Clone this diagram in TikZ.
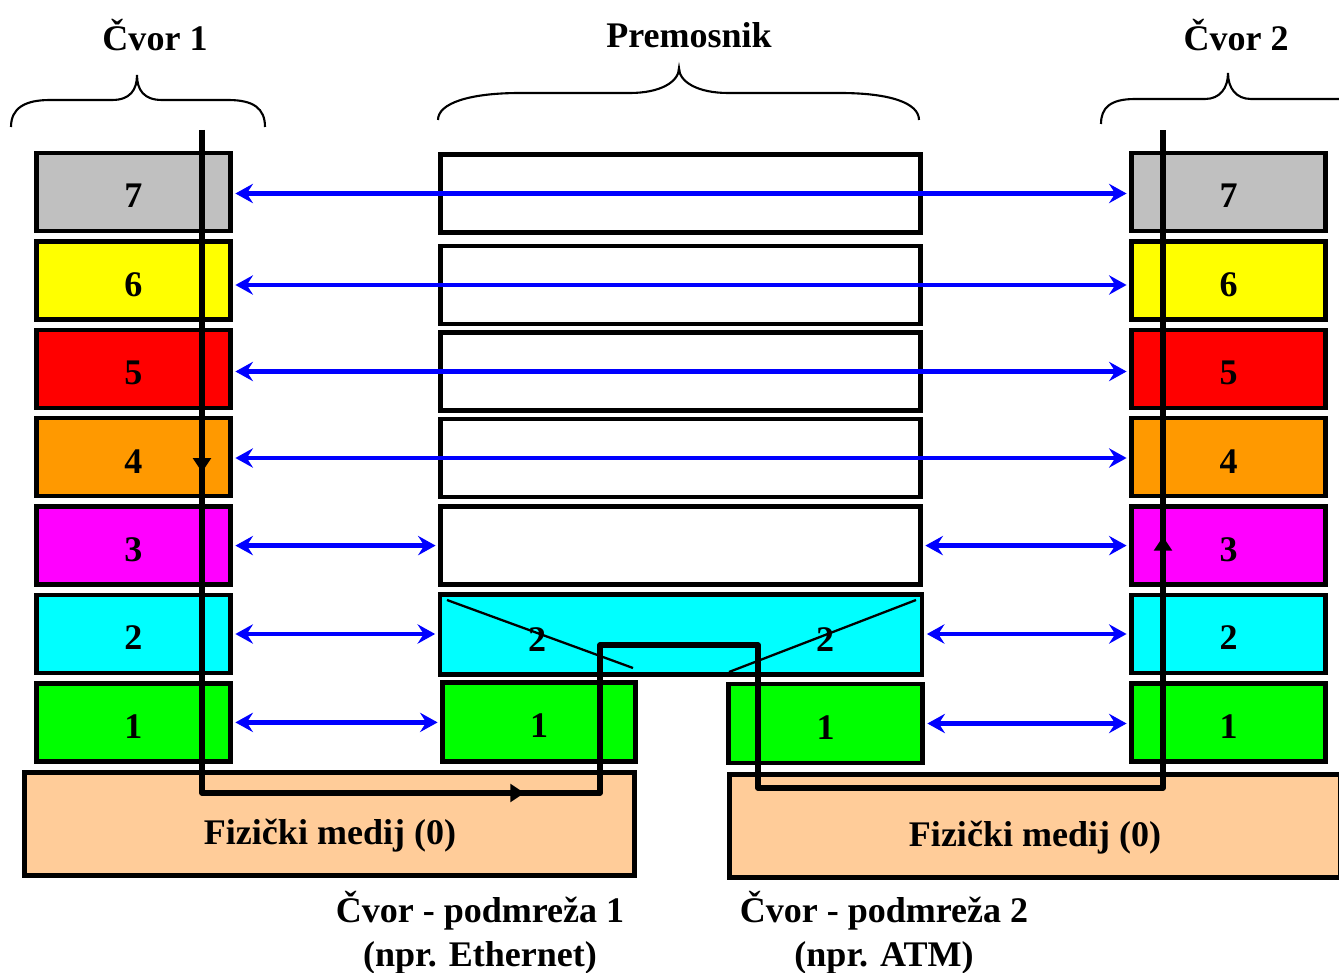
\documentclass[tikz,border=0pt]{standalone}
\usepackage{fontspec}
\setmainfont{Liberation Serif}
\usetikzlibrary{arrows.meta,decorations.markings}
\definecolor{sloj7}{HTML}{C0C0C0}
\definecolor{sloj6}{HTML}{FFFF00}
\definecolor{sloj5}{HTML}{FF0000}
\definecolor{sloj4}{HTML}{FF9900}
\definecolor{sloj3}{HTML}{FF00FF}
\definecolor{sloj2}{HTML}{00FFFF}
\definecolor{sloj1}{HTML}{00FF00}
\definecolor{medij}{HTML}{FFCC99}

\begin{document}
\begin{tikzpicture}[x=0.02cm, y=-0.02cm,
	font=\bfseries\fontsize{20.5}{25}\selectfont,
	sloj/.style={draw, line width=2.6pt, minimum width=3.88cm, minimum height=1.56cm, inner sep=0pt, text height=18pt, text depth=0pt},
	most/.style={draw, line width=2.6pt, fill=white, minimum width=9.6cm, minimum height=1.56cm, inner sep=0pt},
	fizicki/.style={draw, line width=2.6pt, fill=medij, minimum width=12.2cm, minimum height=2.06cm, inner sep=0pt},
	veza/.style={blue, line width=2.8pt, {Stealth[length=10pt,width=11pt,inset=3.5pt]}-{Stealth[length=10pt,width=11pt,inset=3.5pt]}, shorten <=1.5pt, shorten >=1.5pt},
	zagrada/.style={line width=1.2pt},
	tanka/.style={line width=1.3pt},
	put/.style={line width=3.3pt, line join=round, postaction=decorate,
		decoration={markings,
			mark=at position 0.133 with {\arrow{Triangle[width=10pt,length=8pt]}},
			mark=at position 0.383 with {\arrow{Triangle[width=10pt,length=8pt]}},
			mark=at position 0.842 with {\arrow{Triangle[width=10pt,length=8pt]}}}}]
	\useasboundingbox (0,0) rectangle (1339,973);

	\node (cvor1) at (155,35) {Čvor 1};
	\node (premosnik) at (689,35) {Premosnik};
	\node (cvor2) at (1236,35) {Čvor 2};

	\draw[zagrada] (11,127) .. controls (11,108) and (25,100) .. (50,100) -- (112,100)
		.. controls (130,100) and (137,90) .. (137,75) .. controls (137,90) and (144,100) .. (162,100)
		-- (228,100) .. controls (253,100) and (265,108) .. (265,127);
	\draw[zagrada] (438,120) .. controls (438,103) and (470,93) .. (520,93) -- (630,93)
		.. controls (660,93) and (679,82) .. (679,68) .. controls (679,82) and (698,93) .. (728,93)
		-- (840,93) .. controls (890,93) and (919,103) .. (919,120);
	\draw[zagrada] (1101,124) .. controls (1101,108) and (1110,99) .. (1135,99) -- (1205,99)
		.. controls (1220,99) and (1228,88) .. (1228,73) .. controls (1228,88) and (1236,99) .. (1251,99)
		-- (1345,99);

	\foreach \n/\boja [count=\i from 0] in {7/sloj7,6/sloj6,5/sloj5,4/sloj4,3/sloj3,2/sloj2,1/sloj1} {
		\node[sloj, fill=\boja] (l\n) at (133.5,192+88.4*\i) {\n};
		\node[sloj, fill=\boja] (r\n) at (1228.5,192+88.4*\i) {\n};
	}

	\foreach \n/\y in {7/193.5,6/285,5/371.5,4/458,3/545.5}
		\node[most] (b\n) at (680.5,\y) {};
	\node[most, fill=sloj2, minimum width=9.64cm, minimum height=1.6cm] (b2) at (681,634.5) {};
	\node[sloj, fill=sloj1, minimum width=3.86cm, minimum height=1.58cm] (b1a) at (539,722) {1};
	\node[sloj, fill=sloj1, minimum height=1.58cm] (b1b) at (825.5,723.5) {1};

	\node[fizicki] (m1) at (329.5,824) {};
	\node[fizicki, minimum width=12.22cm] (m2) at (1035,826) {};
	\node (m1t) at (330,836) {Fizički medij (0)};
	\node (m2t) at (1035,838) {Fizički medij (0)};

	\node[align=center] (podmreza1) at (480,933) {Čvor - podmreža 1\\(npr. Ethernet)};
	\node[align=center] (podmreza2) at (884,933) {Čvor - podmreža 2\\(npr. ATM)};

	\foreach \n in {7,6,5,4}
		\draw[veza] (l\n.east |- b\n) -- (r\n.west |- b\n);
	\foreach \n in {3,2} {
		\draw[veza] (l\n.east) -- (b\n.west |- l\n.east);
		\draw[veza] (b\n.east |- r\n.west) -- (r\n.west);
	}
	\draw[veza] (l1.east) -- (b1a.west |- l1.east);
	\draw[veza] (b1b.east) -- (r1.west |- b1b.east);

	\node (d2a) at (537,640) {2};
	\node (d2b) at (825,640) {2};
	\draw[tanka] (447,600) -- (633,668);
	\draw[tanka] (916,600) -- (729,672);

	\coordinate (p0) at (202,130);
	\coordinate (p1) at (202,793);
	\coordinate (p2) at (600,793);
	\coordinate (p3) at (600,645);
	\coordinate (p4) at (758,645);
	\coordinate (p5) at (758,788);
	\coordinate (p6) at (1163,788);
	\coordinate (p7) at (1163,130);
	\draw[put] (p0) -- (p1) -- (p2) -- (p3) -- (p4) -- (p5) -- (p6) -- (p7);
\end{tikzpicture}
\end{document}
